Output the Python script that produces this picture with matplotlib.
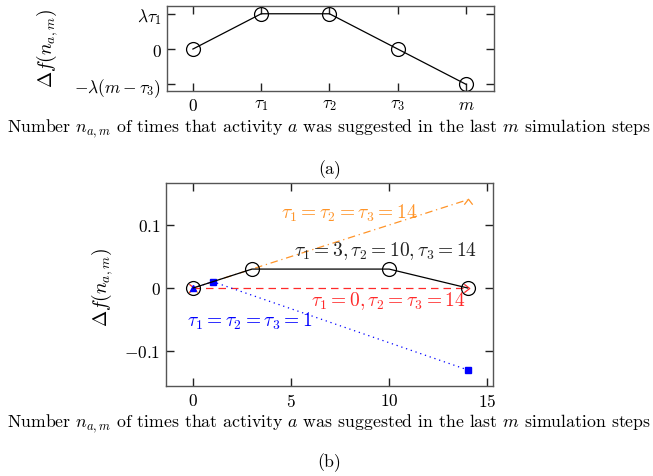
import matplotlib
matplotlib.use('Agg')
import matplotlib.pyplot as plt
import numpy as np

plt.rcParams['font.family'] = 'serif'
plt.rcParams['font.serif'] = ['cmr10']
plt.rcParams['mathtext.fontset'] = 'cm'
plt.rcParams['axes.unicode_minus'] = False
plt.rcParams['axes.formatter.use_mathtext'] = True

# (a) schematic
a_x = [0, 1, 2, 3, 4]
a_y = [0, 1, 1, 0, -1]
a_xticklabels = ['$0$', r'$\tau_1$', r'$\tau_2$', r'$\tau_3$', '$m$']
a_yticks = [-1, 0, 1]
a_yticklabels = [r'$-\lambda(m-\tau_3)$', '$0$', r'$\lambda\tau_1$']

# (b) examples
black_x = [0, 3, 10, 14]
black_y = [0, 0.03, 0.03, 0]
orange_x = [0, 14]
orange_y = [0, 0.14]
red_x = [0, 14]
red_y = [0, 0]
blue_x = [0, 1, 14]
blue_y = [0, 0.01, -0.13]

b_xticks = [0, 5, 10, 15]
b_xticklabels = ['$0$', '$5$', '$10$', '$15$']
b_yticks = [-0.1, 0, 0.1]
b_yticklabels = ['$-0.1$', '$0$', '$0.1$']

xlabel = r'Number $n_{a,m}$ of times that activity $a$ was suggested in the last $m$ simulation steps'
ylabel = r'$\Delta f(n_{a,m})$'

orange = '#ff9428'
red = '#ff2a2a'
blue = '#0000ff'
caret_up = [(-1, -1), (0, 0.3), (1, -1)]
caret_right = [(-1, -1), (0.3, 0), (-1, 1)]

fig = plt.figure(figsize=(6.53, 4.77), dpi=100)
ax1 = fig.add_axes([0.2557, 0.8071, 0.5008, 0.1782])
ax2 = fig.add_axes([0.2542, 0.1887, 0.5008, 0.4256])

def style(ax):
    for s in ax.spines.values():
        s.set_color('#555555')
        s.set_linewidth(1.0)
    ax.tick_params(direction='in', length=6, width=1, top=True, right=True,
                   labelsize=12.5, color='#222222', pad=4)

ax1.plot(a_x, a_y, color='black', lw=0.9, marker='o', ms=10,
         mfc='none', mec='black', mew=0.9)
ax1.set_xlim(-0.38, 4.41)
ax1.set_ylim(-1.19, 1.22)
ax1.set_xticks(a_x)
ax1.set_xticklabels(a_xticklabels)
ax1.set_yticks(a_yticks)
ax1.set_yticklabels(a_yticklabels)
style(ax1)

ax2.plot(orange_x, orange_y, color=orange, lw=0.9, ls=(0, (6, 3, 1, 3)),
         marker=caret_up, ms=6, mfc='none', mec=orange, mew=0.9)
ax2.plot(red_x, red_y, color=red, lw=0.9, ls=(0, (6, 4)),
         marker=caret_right, ms=6, mfc='none', mec=red, mew=0.9)
ax2.plot(blue_x, blue_y, color=blue, lw=0.9, ls=(0, (1, 3)),
         marker='s', ms=4, markevery=[1, 2], mfc=blue, mec=blue)
ax2.plot(blue_x[:1], blue_y[:1], ls='none', marker='^', ms=5, color=blue)
ax2.plot(black_x, black_y, color='black', lw=0.9, marker='o', ms=10,
         mfc='none', mec='black', mew=0.9)

ax2.text(11.46, 0.1206, r'$\tau_1=\tau_2=\tau_3=14$', color=orange,
         fontsize=14, ha='right', va='center')
ax2.text(14.5, 0.060, r'$\tau_1=3,\tau_2=10,\tau_3=14$', color='#222222',
         fontsize=14, ha='right', va='center')
ax2.text(13.9, -0.019, r'$\tau_1=0,\tau_2=\tau_3=14$', color=red,
         fontsize=14, ha='right', va='center')
ax2.text(-0.32, -0.051, r'$\tau_1=\tau_2=\tau_3=1$', color=blue,
         fontsize=14, ha='left', va='center')

ax2.set_xlim(-1.39, 15.3)
ax2.set_ylim(-0.1556, 0.1667)
ax2.set_xticks(b_xticks)
ax2.set_xticklabels(b_xticklabels)
ax2.set_yticks(b_yticks)
ax2.set_yticklabels(b_yticklabels)
style(ax2)

fig.text(0.072, 0.898, ylabel, rotation=90, ha='center', va='center', fontsize=14)
fig.text(0.156, 0.398, ylabel, rotation=90, ha='center', va='center', fontsize=14)
fig.text(0.5046, 0.7300, xlabel, ha='center', va='center', fontsize=12.8)
fig.text(0.5046, 0.6436, '(a)', ha='center', va='center', fontsize=12.8)
fig.text(0.5046, 0.1120, xlabel, ha='center', va='center', fontsize=12.8)
fig.text(0.5046, 0.0294, '(b)', ha='center', va='center', fontsize=12.8)

fig.savefig('out.png', dpi=100)
